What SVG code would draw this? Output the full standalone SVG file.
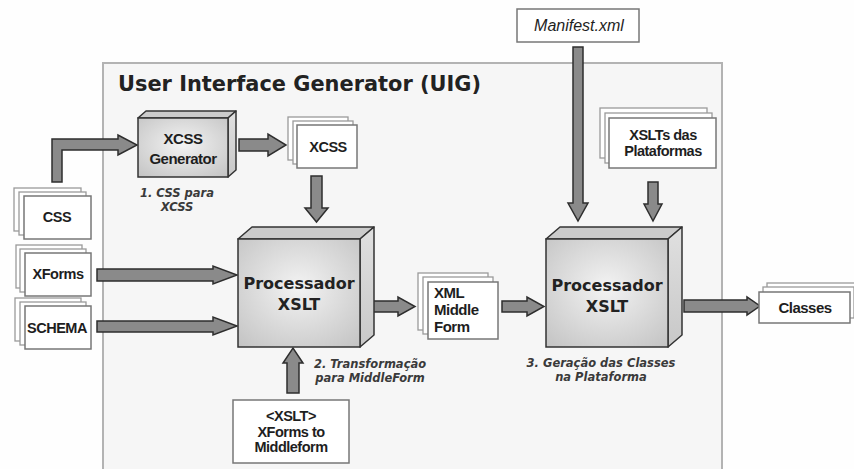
<svg xmlns="http://www.w3.org/2000/svg" width="854" height="469" viewBox="0 0 854 469">
<defs>
<radialGradient id="face" cx="0.5" cy="0.45" r="0.75">
<stop offset="0" stop-color="#f3f3f3"/>
<stop offset="1" stop-color="#c2c2c2"/>
</radialGradient>
<linearGradient id="side" x1="0" y1="0" x2="0" y2="1">
<stop offset="0" stop-color="#e0e0e0"/>
<stop offset="1" stop-color="#c8c8c8"/>
</linearGradient>
<style>
.bg{fill:#fefefe}
.uig{fill:#f6f6f6;stroke:#b3b3b3;stroke-width:2}
.title{font-family:"DejaVu Sans",Verdana,sans-serif;font-weight:bold;font-size:21px;fill:#222}
.front{fill:url(#face);stroke:#333;stroke-width:1.5}
.top{fill:#cbcbcb;stroke:#333;stroke-width:1.5;stroke-linejoin:round}
.rside{fill:url(#side);stroke:#333;stroke-width:1.5;stroke-linejoin:round}
.pg{fill:#fff;stroke:#9a9a9a;stroke-width:1.3}
.pgf{fill:#fff;stroke:#777;stroke-width:1.5}
.arr{fill:#8a8a8a;stroke:#2e2e2e;stroke-width:1.5;stroke-linejoin:miter}
.doc{font-family:"Liberation Sans",Arial,sans-serif;font-weight:bold;font-size:14.5px;fill:#1e1e1e;letter-spacing:-0.5px}
.proc{font-family:"DejaVu Sans",Verdana,sans-serif;font-weight:bold;font-size:16px;fill:#222}
.lbl{font-family:"DejaVu Sans",Verdana,sans-serif;font-weight:bold;font-style:italic;font-size:11.5px;fill:#3a3a3a}
.man{font-family:"Liberation Sans",Arial,sans-serif;font-style:italic;font-size:16px;fill:#1e1e1e}
</style>
</defs>
<rect class="bg" x="0" y="0" width="854" height="469"/>
<g id="uig">
<rect class="uig" x="103" y="63" width="619" height="412"/>
<text class="title" x="118" y="91" textLength="363" lengthAdjust="spacingAndGlyphs">User Interface Generator (UIG)</text>
</g>

<g id="connectors">
<polygon class="arr" points="52,182 52,139 118,139 118,135 137,145 118,155 118,150 62,150 62,182"/>
<polygon class="arr" points="239,139 268,139 268,134 286,145 268,156 268,151 239,151"/>
<polygon class="arr" points="311,176 322,176 322,208 328,208 316.5,222 305,208 311,208"/>
<polygon class="arr" points="97,269 213,269 213,266 237,275 213,284 213,281 97,281"/>
<polygon class="arr" points="97,321 213,321 213,317 237,326 213,335 213,332 97,332"/>
<polygon class="arr" points="287,393 287,363 283,363 293,348 303,363 299,363 299,393"/>
<polygon class="arr" points="373,301 398,301 398,297 415,306.5 398,316 398,312 373,312"/>
<polygon class="arr" points="502,301 527,301 527,297 544,306.5 527,316 527,312 502,312"/>
<polygon class="arr" points="573,47 583,47 583,203 588,203 578,221 568,203 573,203"/>
<polygon class="arr" points="648,182 658,182 658,204 662,204 653,221 644,204 648,204"/>
<polygon class="arr" points="684,300 747,300 747,297 760,306 747,315 747,312 684,312"/>
</g>

<g id="css">
<rect class="pg" x="14" y="188" width="67" height="43"/>
<rect class="pg" x="19" y="192" width="67" height="43"/>
<rect class="pgf" x="24" y="196" width="67" height="43"/>
<text class="doc" x="57" y="222" text-anchor="middle">CSS</text>
</g>
<g id="xforms">
<rect class="pg" x="16" y="245" width="66" height="43"/>
<rect class="pg" x="20" y="249" width="66" height="43"/>
<rect class="pgf" x="25" y="253" width="66" height="43"/>
<text class="doc" x="58" y="279" text-anchor="middle">XForms</text>
</g>
<g id="schema">
<rect class="pg" x="15" y="298" width="66" height="43"/>
<rect class="pg" x="20" y="302" width="66" height="43"/>
<rect class="pgf" x="25" y="306" width="66" height="43"/>
<text class="doc" x="57" y="333" text-anchor="middle">SCHEMA</text>
</g>

<g id="xcss-generator">
<polygon class="top" points="138,118 146,111 236,111 228,118"/>
<polygon class="rside" points="228,118 236,111 236,170 228,177"/>
<rect class="front" x="138" y="118" width="90" height="59"/>
<text class="doc" x="183" y="144" text-anchor="middle" style="font-size:15px">XCSS</text>
<text class="doc" x="183" y="164" text-anchor="middle" style="font-size:15px">Generator</text>
<text class="lbl" x="177" y="197" text-anchor="middle">1. CSS para</text>
<text class="lbl" x="177" y="211" text-anchor="middle">XCSS</text>
</g>

<g id="xcss">
<rect class="pg" x="288" y="117" width="60" height="43"/>
<rect class="pg" x="293" y="121" width="60" height="43"/>
<rect class="pgf" x="297" y="125" width="60" height="43"/>
<text class="doc" x="328" y="152" text-anchor="middle">XCSS</text>
</g>

<g id="processor1">
<polygon class="top" points="238,239 252,227 374,227 360,239"/>
<polygon class="rside" points="360,239 374,227 374,335 360,347"/>
<rect class="front" x="238" y="239" width="122" height="108"/>
<text class="proc" x="299" y="289" text-anchor="middle">Processador</text>
<text class="proc" x="299" y="310" text-anchor="middle">XSLT</text>
<text class="lbl" x="370" y="368" text-anchor="middle">2. Transformação</text>
<text class="lbl" x="370" y="382" text-anchor="middle">para MiddleForm</text>
</g>

<g id="xslt-xforms">
<rect class="pgf" x="233" y="400" width="116" height="63"/>
<text class="doc" x="291" y="421" text-anchor="middle">&lt;XSLT&gt;</text>
<text class="doc" x="291" y="437" text-anchor="middle">XForms to</text>
<text class="doc" x="291" y="452" text-anchor="middle">Middleform</text>
</g>

<g id="xml-middle-form">
<rect class="pg" x="418" y="273" width="70" height="57"/>
<rect class="pg" x="423" y="277" width="70" height="57"/>
<rect class="pgf" x="428" y="282" width="70" height="57"/>
<text class="doc" x="434" y="298" style="font-size:15px">XML</text>
<text class="doc" x="434" y="315" style="font-size:15px">Middle</text>
<text class="doc" x="434" y="332" style="font-size:15px">Form</text>
</g>

<g id="manifest">
<rect class="pgf" x="517" y="9" width="122" height="33"/>
<text class="man" x="579" y="31" text-anchor="middle">Manifest.xml</text>
</g>

<g id="xslts-plataformas">
<rect class="pg" x="600" y="108" width="107" height="50"/>
<rect class="pg" x="605" y="113" width="107" height="50"/>
<rect class="pgf" x="609" y="118" width="107" height="50"/>
<text class="doc" x="663" y="140" text-anchor="middle">XSLTs das</text>
<text class="doc" x="663" y="156" text-anchor="middle">Plataformas</text>
</g>

<g id="processor2">
<polygon class="top" points="546,239 560,227 682,227 668,239"/>
<polygon class="rside" points="668,239 682,227 682,335 668,347"/>
<rect class="front" x="546" y="239" width="122" height="108"/>
<text class="proc" x="607" y="291" text-anchor="middle">Processador</text>
<text class="proc" x="607" y="312" text-anchor="middle">XSLT</text>
<text class="lbl" x="601" y="367" text-anchor="middle">3. Geração das Classes</text>
<text class="lbl" x="601" y="381" text-anchor="middle">na Plataforma</text>
</g>

<g id="classes">
<rect class="pg" x="767" y="283" width="91" height="31"/>
<rect class="pg" x="763" y="287" width="91" height="31"/>
<rect class="pgf" x="759" y="292" width="91" height="31"/>
<text class="doc" x="805" y="313" text-anchor="middle" style="font-size:15px">Classes</text>
</g>
</svg>
